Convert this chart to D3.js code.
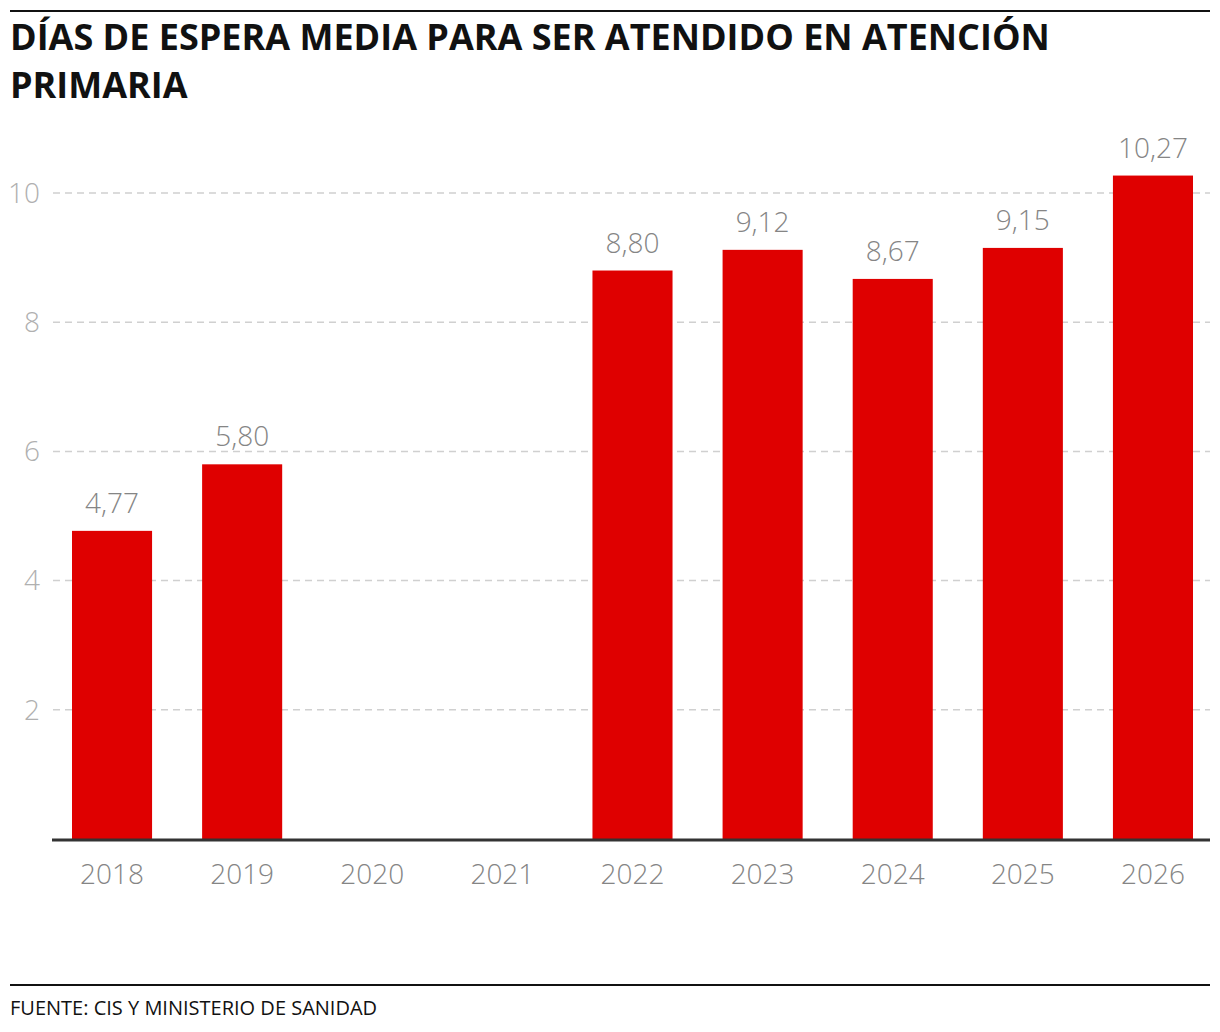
<!DOCTYPE html>
<html>
<head>
<meta charset="utf-8">
<script src="https://cdn.jsdelivr.net/npm/d3@7"></script>
<style>
  body { margin: 0; background: #fff; }
  svg { display: block; font-family: 'Open Sans', sans-serif; }
</style>
</head>
<body>
<svg id="chart" width="1220" height="1032"></svg>
<script>
const years = ['2018', '2019', '2020', '2021', '2022', '2023', '2024', '2025', '2026']
const values = [4.77, 5.80, null, null, 8.80, 9.12, 8.67, 9.15, 10.27]
const yTicks = [2, 4, 6, 8, 10]

const titleLines = ['DÍAS DE ESPERA MEDIA PARA SER ATENDIDO EN ATENCIÓN', 'PRIMARIA']
const source = 'FUENTE: CIS Y MINISTERIO DE SANIDAD'

const data = years.map((y, i) => ({ year: y, value: values[i] }))

const svg = d3.select('#chart')
const W = 1220

const fmt = v => v.toFixed(2).replace('.', ',')

// rules top and bottom
svg.append('rect').attr('x', 10).attr('y', 10).attr('width', W - 20).attr('height', 2).attr('fill', '#111')
svg.append('rect').attr('x', 10).attr('y', 984).attr('width', W - 20).attr('height', 2).attr('fill', '#111')

svg.append('g')
  .selectAll('text')
  .data(titleLines)
  .join('text')
  .attr('x', 10)
  .attr('y', (d, i) => 50 + i * 48)
  .attr('font-size', 36)
  .attr('font-weight', 700)
  .attr('fill', '#111')
  .text(d => d)

let x = d3.scaleBand()
  .domain(years)
  .range([72, 1193])
  .paddingInner(50 / 130)
  .paddingOuter(0)

let y = d3.scaleLinear()
  .domain([0, 10])
  .range([839, 193])

// grid
const grid = svg.append('g')
grid.selectAll('line')
  .data(yTicks)
  .join('line')
  .attr('x1', 53)
  .attr('x2', 1210)
  .attr('y1', d => y(d))
  .attr('y2', d => y(d))
  .attr('stroke', '#d0d0d0')
  .attr('stroke-width', 1.5)
  .attr('stroke-dasharray', '7,5')

grid.selectAll('text')
  .data(yTicks)
  .join('text')
  .attr('x', 40)
  .attr('y', d => y(d))
  .attr('dy', '0.35em')
  .attr('text-anchor', 'end')
  .attr('font-size', 28)
  .attr('font-weight', 300)
  .attr('fill', '#b0b0b0')
  .text(d => d)

// bars
const bars = data.filter(d => d.value != null)

svg.append('g')
  .selectAll('rect')
  .data(bars)
  .join('rect')
  .attr('x', d => x(d.year))
  .attr('width', x.bandwidth())
  .attr('y', d => y(d.value))
  .attr('height', d => y(0) - y(d.value))
  .attr('fill', '#df0000')

svg.append('g')
  .selectAll('text')
  .data(bars)
  .join('text')
  .attr('x', d => x(d.year) + x.bandwidth() / 2)
  .attr('y', d => y(d.value) - 18)
  .attr('text-anchor', 'middle')
  .attr('font-size', 28)
  .attr('font-weight', 300)
  .attr('fill', '#858585')
  .text(d => fmt(d.value))

// baseline
svg.append('line')
  .attr('x1', 52).attr('x2', 1210)
  .attr('y1', y(0) + 1).attr('y2', y(0) + 1)
  .attr('stroke', '#333')
  .attr('stroke-width', 3)

svg.append('g')
  .selectAll('text')
  .data(years)
  .join('text')
  .attr('x', d => x(d) + x.bandwidth() / 2)
  .attr('y', 884)
  .attr('text-anchor', 'middle')
  .attr('font-size', 28)
  .attr('font-weight', 300)
  .attr('fill', '#858585')
  .text(d => d)

svg.append('text')
  .attr('x', 10)
  .attr('y', 1015)
  .attr('font-size', 20)
  .attr('fill', '#111')
  .text(source)
</script>
</body>
</html>
